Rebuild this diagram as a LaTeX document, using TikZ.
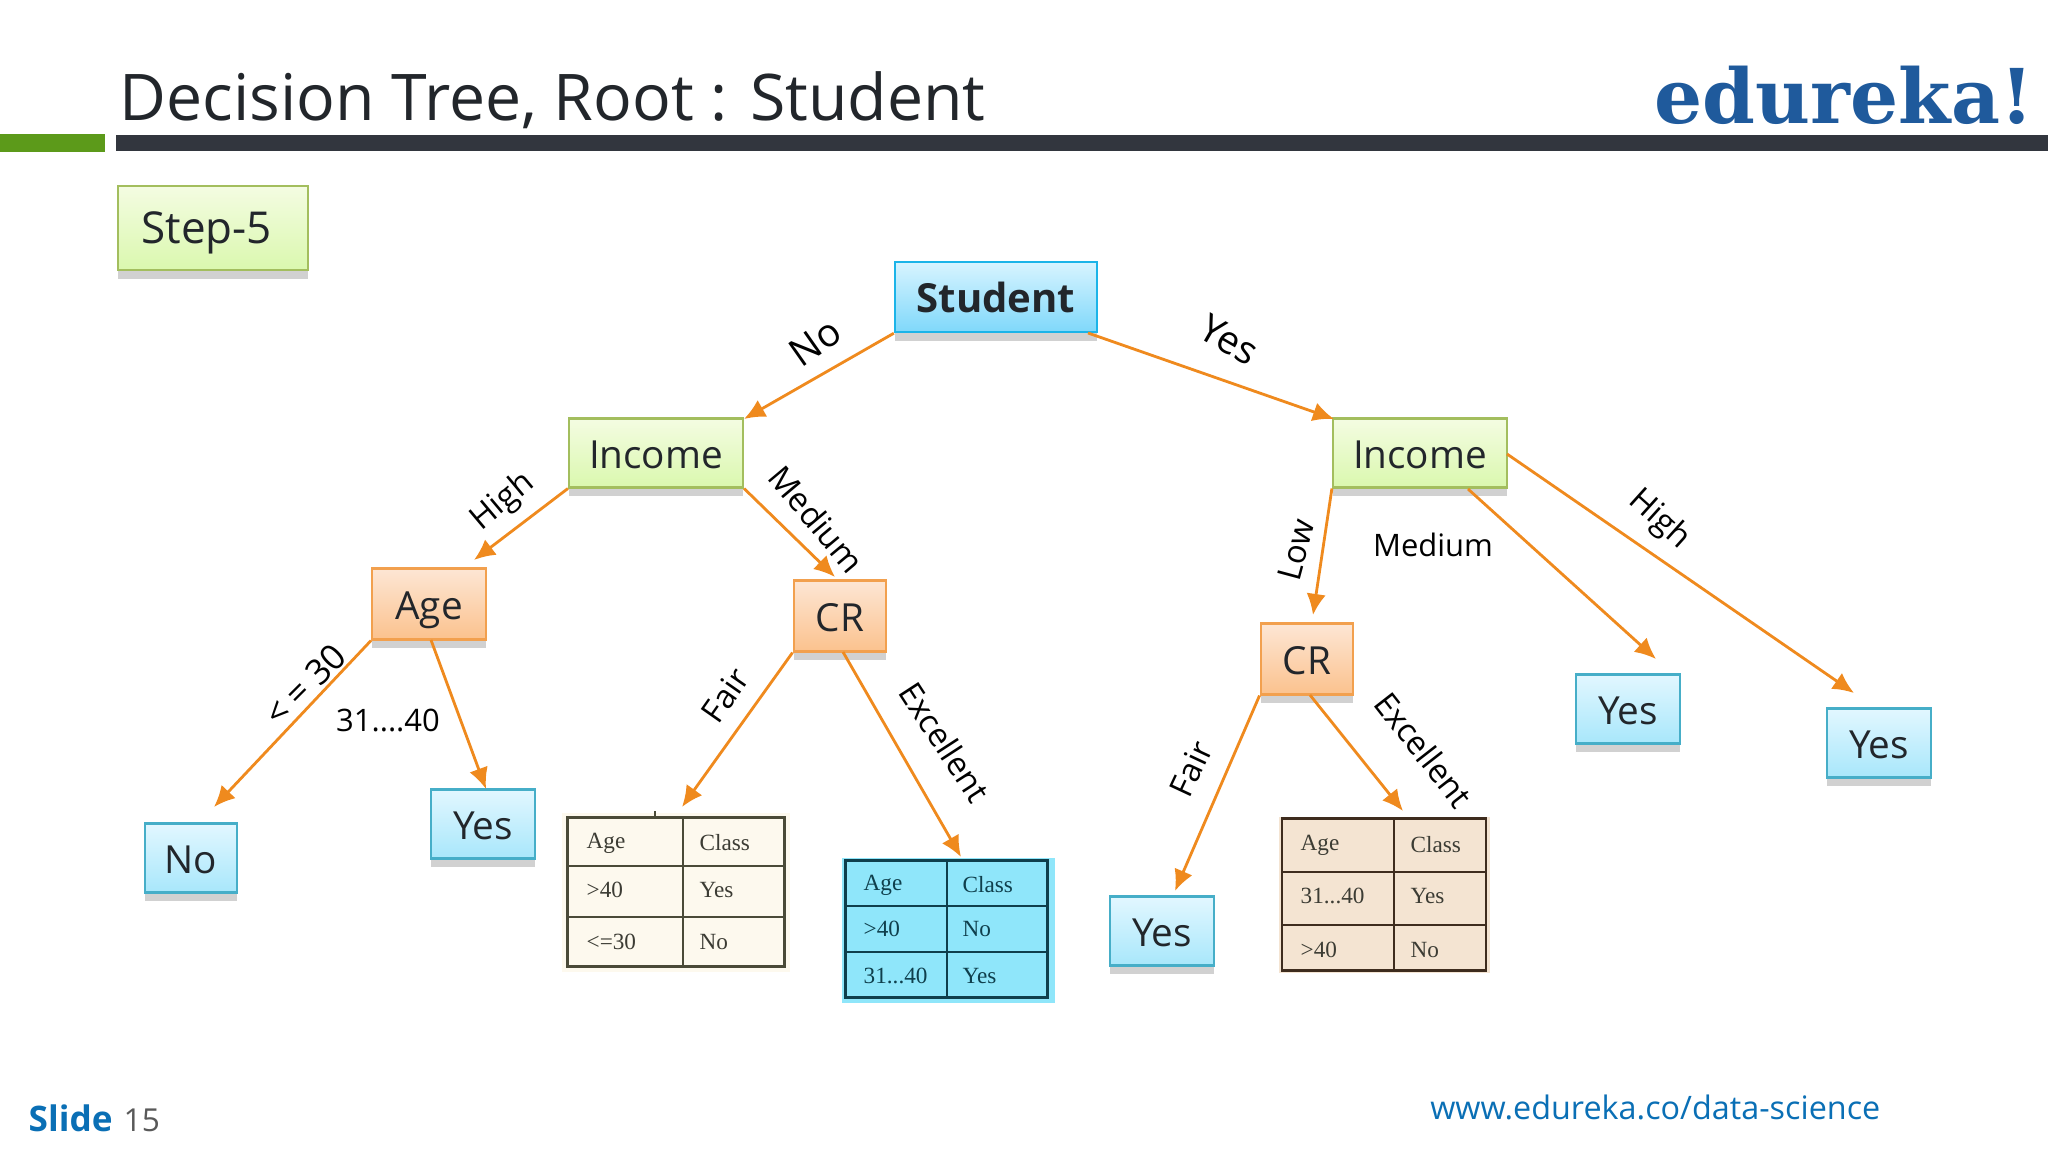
\documentclass[tikz,border=0pt]{standalone}
\usepackage{fontspec}
\setmainfont{Open Sans}
\newfontfamily\logofont{DejaVu Serif}
\newfontfamily\tablefont{Liberation Serif}
\usetikzlibrary{arrows.meta,shadows}
\definecolor{arrowcol}{HTML}{EF8A1E}
\definecolor{inkcol}{HTML}{22262B}
\definecolor{linkcol}{HTML}{0A6FB5}
\definecolor{barcol}{HTML}{32363E}
\definecolor{leafcol}{HTML}{5C9A1A}
\definecolor{logocol}{HTML}{1F5A9C}
\definecolor{creamcol}{HTML}{FDF9EE}
\definecolor{tealcol}{HTML}{8FE6FA}
\definecolor{sandcol}{HTML}{F4E4D2}
\definecolor{olivelinecol}{HTML}{4A4A38}
\definecolor{teallinecol}{HTML}{0F3F4C}
\definecolor{sandlinecol}{HTML}{3E2C1E}
\definecolor{celltextcol}{HTML}{3C3C34}
\definecolor{greenedge}{HTML}{A3BE5E}
\definecolor{greentop}{HTML}{F4FCE2}
\definecolor{greenbot}{HTML}{DAF8AE}
\definecolor{blueedge}{HTML}{46AEC8}
\definecolor{bluetop}{HTML}{E2F7FF}
\definecolor{bluebot}{HTML}{A8E7FB}
\definecolor{rootedge}{HTML}{1CB4E8}
\definecolor{roottop}{HTML}{D8F4FF}
\definecolor{rootbot}{HTML}{7FD8FA}
\definecolor{orangeedge}{HTML}{F2A04E}
\definecolor{orangetop}{HTML}{FDE6D4}
\definecolor{orangebot}{HTML}{FBC28E}
\tikzset{
	treebox/.style={draw,line width=0.6pt,inner sep=0pt,text=inkcol,text height=9.5pt,text depth=0.7pt,font=\fontsize{11}{13}\selectfont,
		drop shadow={shadow xshift=0pt,shadow yshift=-2.5pt,opacity=0.3,fill=black!60}},
	greenbox/.style={treebox,draw=greenedge,top color=greentop,bottom color=greenbot},
	bluebox/.style={treebox,draw=blueedge,top color=bluetop,bottom color=bluebot},
	orangebox/.style={treebox,draw=orangeedge,top color=orangetop,bottom color=orangebot},
	branch/.style={draw=arrowcol,line width=0.8pt,-{Latex[length=6pt,width=5.5pt]}},
	edgetext/.style={font=\fontsize{9.3}{11}\selectfont,text=black},
	celltext/.style={anchor=west,inner sep=0pt,text=celltextcol,font=\tablefont\fontsize{6.6}{8}\selectfont},
	tableframe/.style={draw,line width=0.8pt,inner sep=0pt}
}
\begin{document}
\begin{tikzpicture}[x=0.01cm,y=-0.01cm]
	\useasboundingbox (0,0) rectangle (2048,1152);
	% header
	\fill[leafcol] (0,134) rectangle (105,152);
	\fill[barcol] (116,135) rectangle (2048,151);
	\node[anchor=base west,inner sep=0pt,text=inkcol,font=\fontsize{18.3}{20}\selectfont] (title) at (119,121) {Decision Tree, Root : Student};
	\node[anchor=base east,inner sep=0pt,text=logocol,font=\logofont\bfseries\fontsize{21.5}{24}\selectfont] (logo) at (2034,124) {edureka!};
	\node[greenbox,minimum width=53.8pt,minimum height=24pt,font=\fontsize{12.5}{14}\selectfont] (stepfive) at (213,228) {Step-5\hspace{3.5pt}\mbox{}};
	% tree
	\node[bluebox,draw=rootedge,top color=roottop,bottom color=rootbot,minimum width=57.5pt,minimum height=20pt,font=\bfseries\fontsize{11.4}{14}\selectfont] (student) at (996,297) {Student};
	\node[greenbox,minimum width=49.5pt,minimum height=19.6pt] (incomel) at (656,453) {Income};
	\node[greenbox,minimum width=49.5pt,minimum height=19.6pt] (incomer) at (1420,453) {Income};
	\node[orangebox,minimum width=32.4pt,minimum height=20.2pt] (age) at (429,604) {Age};
	\node[orangebox,minimum width=26.4pt,minimum height=20.2pt] (crl) at (840,616) {CR};
	\node[orangebox,minimum width=26.4pt,minimum height=20.2pt] (crr) at (1307,659) {CR};
	\node[bluebox,minimum width=26.4pt,minimum height=19.6pt] (no) at (191,858) {No};
	\node[bluebox,minimum width=29.8pt,minimum height=19.6pt] (yesa) at (483,824) {Yes};
	\node[bluebox,minimum width=29.8pt,minimum height=19.6pt] (yesb) at (1162,931) {Yes};
	\node[bluebox,minimum width=29.8pt,minimum height=19.6pt] (yesc) at (1628,709) {Yes};
	\node[bluebox,minimum width=29.8pt,minimum height=19.6pt] (yesd) at (1879,743) {Yes};
	% first table
	\fill[creamcol] (562,813) rectangle (790,972);
	\node[tableframe,draw=olivelinecol,minimum width=61.5pt,minimum height=42.4pt] (tablea) at (676,892) {};
	\draw[line width=0.8pt,olivelinecol] (683,817) -- (683,966);
	\draw[line width=0.8pt,olivelinecol] (568,866) -- (784,866);
	\draw[line width=0.8pt,olivelinecol] (568,917) -- (784,917);
	\draw[line width=0.6pt,olivelinecol] (655,811) -- (655,817);
	\node[celltext] (tableaa) at (586,843) {Age};
	\node[celltext] (tableab) at (699,843) {Class};
	\node[celltext] (tableac) at (586,890) {>40};
	\node[celltext] (tablead) at (699,890) {Yes};
	\node[celltext] (tableae) at (586,942) {<=30};
	\node[celltext] (tableaf) at (699,942) {No};
	% second table
	\fill[tealcol] (842,858) rectangle (1055,1003);
	\node[tableframe,draw=teallinecol,minimum width=57.5pt,minimum height=38.9pt] (tableb) at (946.5,929) {};
	\draw[line width=0.8pt,teallinecol] (947,861) -- (947,997);
	\draw[line width=0.8pt,teallinecol] (846,906) -- (1047,906);
	\draw[line width=0.8pt,teallinecol] (846,952) -- (1047,952);
	\node[celltext,text=teallinecol] (tableba) at (863,885) {Age};
	\node[celltext,text=teallinecol] (tablebb) at (962,885) {Class};
	\node[celltext,text=teallinecol] (tablebc) at (863,929) {>40};
	\node[celltext,text=teallinecol] (tablebd) at (962,929) {No};
	\node[celltext,text=teallinecol] (tablebe) at (863,976) {31...40};
	\node[celltext,text=teallinecol] (tablebf) at (962,976) {Yes};
	% third table
	\fill[sandcol] (1279,817) rectangle (1490,973);
	\node[tableframe,draw=sandlinecol,minimum width=58pt,minimum height=43.2pt] (tablec) at (1384,894.5) {};
	\draw[line width=0.8pt,sandlinecol] (1394,819) -- (1394,970);
	\draw[line width=0.8pt,sandlinecol] (1282,872) -- (1486,872);
	\draw[line width=0.8pt,sandlinecol] (1282,925) -- (1486,925);
	\node[celltext] (tableca) at (1300,845) {Age};
	\node[celltext] (tablecb) at (1410,845) {Class};
	\node[celltext] (tablecc) at (1300,896) {31...40};
	\node[celltext] (tablecd) at (1410,896) {Yes};
	\node[celltext] (tablece) at (1300,950) {>40};
	\node[celltext] (tablecf) at (1410,950) {No};
	% free ends of the branches
	\coordinate (s1) at (1088,333);
	\coordinate (s2) at (1468,489);
	\coordinate (s3) at (1507,454);
	\coordinate (s4) at (431,640);
	\coordinate (s5) at (843,652);
	\coordinate (s6) at (1310,695);
	\coordinate (e1) at (744,419);
	\coordinate (e2) at (1334,419);
	\coordinate (e3) at (474,560);
	\coordinate (e4) at (835,577);
	\coordinate (e5) at (1313,615);
	\coordinate (e6) at (1656,659);
	\coordinate (e7) at (1854,693);
	\coordinate (e8) at (214,807);
	\coordinate (e9) at (486,789);
	\coordinate (e10) at (682,807);
	\coordinate (e11) at (961,857);
	\coordinate (e12) at (1175,891);
	\coordinate (e13) at (1403,811);
	% branches
	\draw[branch] (student.south west) -- (e1);
	\draw[branch] (s1) -- (e2);
	\draw[branch] (incomel.south west) -- (e3);
	\draw[branch] (incomel.south east) -- (e4);
	\draw[branch] (incomer.south west) -- (e5);
	\draw[branch] (s2) -- (e6);
	\draw[branch] (s3) -- (e7);
	\draw[branch] (age.south west) -- (e8);
	\draw[branch] (s4) -- (e9);
	\draw[branch] (crl.south west) -- (e10);
	\draw[branch] (s5) -- (e11);
	\draw[branch] (crr.south west) -- (e12);
	\draw[branch] (s6) -- (e13);
	% branch labels
	\node[edgetext,rotate=35,font=\fontsize{11}{13}\selectfont] (lno) at (815,342) {No};
	\node[edgetext,rotate=-30,font=\fontsize{11}{13}\selectfont] (lyes) at (1229,340) {Yes};
	\node[edgetext,rotate=40] (lhigha) at (503,502) {High};
	\node[edgetext,rotate=-50] (lmeda) at (817,519) {Medium};
	\node[edgetext,rotate=-42] (lhighb) at (1659,520) {High};
	\node[edgetext,rotate=75] (llow) at (1296,550) {Low};
	\node[edgetext,font=\fontsize{8.8}{11}\selectfont] (lmedb) at (1433,545) {Medium};
	\node[edgetext,rotate=55] (lfaira) at (725,695) {Fair};
	\node[edgetext,rotate=-57] (lexca) at (945,742) {Excellent};
	\node[edgetext,rotate=65] (lfairb) at (1191,769) {Fair};
	\node[edgetext,rotate=-52] (lexcb) at (1424,750) {Excellent};
	\node[edgetext,rotate=45,font=\fontsize{10}{12}\selectfont] (lyoung) at (305,685) {< = 30};
	\node[edgetext,font=\fontsize{8.8}{11}\selectfont] (lmid) at (388,720) {31....40};
	% footer
	\node[anchor=base west,inner sep=0pt,text=linkcol,font=\bfseries\fontsize{10}{12}\selectfont] (slide) at (28,1131) {Slide};
	\node[anchor=base west,inner sep=0pt,text=black!65,font=\fontsize{9}{12}\selectfont] (slidenum) at (123,1131) {15};
	\node[anchor=base east,inner sep=0pt,text=linkcol,font=\fontsize{9.2}{12}\selectfont] (site) at (1881,1119) {www.edureka.co/data-science};
\end{tikzpicture}
\end{document}
